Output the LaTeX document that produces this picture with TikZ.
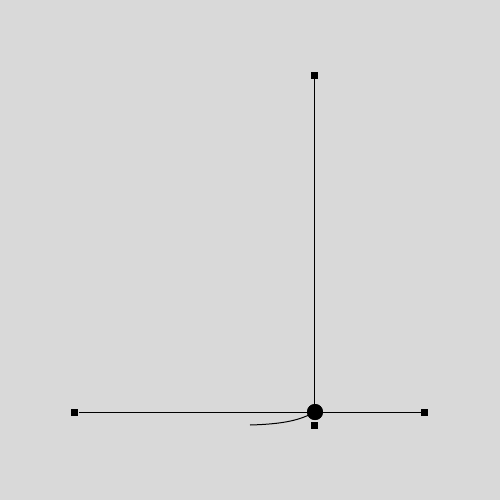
\documentclass[tikz,border=0pt]{standalone}
\begin{document}
\begin{tikzpicture}[x=0.5pt,y=-0.5pt,line width=0.5pt,
  handle/.style={rectangle,fill=black,inner sep=0pt,minimum size=3.5pt},
  joint/.style={circle,fill=black,inner sep=0pt,minimum size=8pt}]
\fill[fill={rgb,255:red,217;green,217;blue,217}] (0,0) rectangle (500,500);
\useasboundingbox (0,0) rectangle (500,500);
\node[handle] (top) at (315,75) {};
\node[handle] (left) at (75,412) {};
\node[handle] (right) at (425,412) {};
\node[handle] (bottom) at (315,425) {};
\node[joint] (c) at (315,412) {};
\coordinate (tail) at (250,425);
\draw (left) -- (right);
\draw (top) -- (c.center);
\draw (tail) .. controls (285,424) and (300,420) .. (c.center);
\node[joint] at (c) {};
\end{tikzpicture}
\end{document}
